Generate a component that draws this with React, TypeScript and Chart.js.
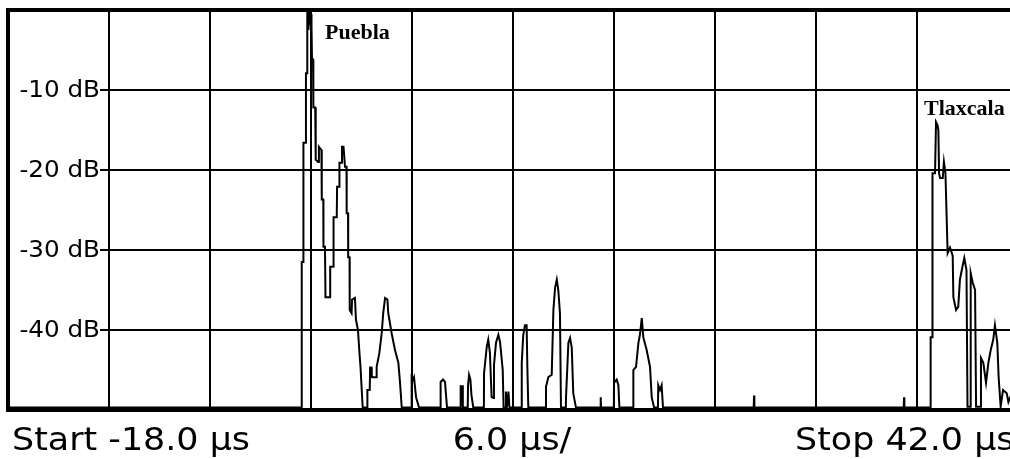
import React, { useEffect, useRef } from "react";
import { Chart, registerables } from "chart.js";

Chart.register(...registerables);

// Time axis (µs) and level (dB) of the trace
const TIME_US = [
  -18.0, -0.56, -0.55, -0.46, -0.45, -0.31, -0.30, -0.23, -0.22, -0.15, -0.11, -0.03, 0.00, 0.03, 0.06, 0.12, 0.14, 0.25, 0.28, 0.42,
  0.47, 0.62, 0.64, 0.73, 0.74, 0.83, 0.86, 1.13, 1.14, 1.32, 1.34, 1.53, 1.55, 1.68, 1.69, 1.82, 1.84, 1.93, 1.99, 2.02,
  2.11, 2.12, 2.20, 2.21, 2.29, 2.30, 2.41, 2.44, 2.61, 2.67, 2.79, 2.88, 2.94, 3.07, 3.33, 3.35, 3.49, 3.51, 3.59, 3.61,
  3.89, 3.90, 4.06, 4.20, 4.29, 4.40, 4.54, 4.59, 4.79, 4.99, 5.19, 5.29, 5.39, 5.97, 5.98, 6.06, 6.12, 6.24, 6.42, 7.69,
  7.70, 7.84, 7.96, 8.02, 8.08, 8.88, 8.89, 8.94, 8.98, 9.02, 9.31, 9.33, 9.39, 9.47, 9.53, 9.64, 10.27, 10.28, 10.44, 10.53,
  10.63, 10.73, 10.84, 10.87, 10.99, 11.13, 11.23, 11.39, 11.44, 11.56, 11.58, 11.64, 11.73, 11.79, 12.50, 12.52, 12.61, 12.71, 12.81, 12.85,
  12.91, 13.95, 13.96, 14.10, 14.30, 14.40, 14.50, 14.60, 14.69, 14.79, 14.85, 15.14, 15.15, 15.29, 15.39, 15.49, 15.58, 15.74, 17.20, 17.21,
  17.23, 17.99, 18.00, 18.16, 18.26, 18.32, 19.13, 19.15, 19.31, 19.45, 19.54, 19.65, 19.74, 19.94, 20.14, 20.24, 20.38, 20.61, 20.63, 20.73,
  20.83, 20.91, 26.30, 26.32, 26.34, 35.21, 35.23, 35.25, 36.80, 36.81, 36.91, 36.92, 37.07, 37.13, 37.22, 37.27, 37.31, 37.37, 37.53, 37.60,
  37.69, 37.82, 37.96, 38.12, 38.16, 38.32, 38.45, 38.55, 38.66, 38.81, 38.94, 39.00, 39.15, 39.19, 39.31, 39.45, 39.51, 39.77, 39.80, 39.94,
  40.10, 40.24, 40.38, 40.53, 40.63, 40.77, 40.85, 40.97, 41.11, 41.33, 41.43, 41.52, 41.76, 42.0,
];

const LEVEL_DB = [
  -49.7, -49.7, -31.5, -31.5, -16.6, -16.6, -7.9, -7.9, -0.1, -2.5, -0.2, -1.9, -0.5, -2.1, -6.2, -6.2, -12.2, -12.2, -18.7, -19.0,
  -17.1, -17.5, -23.7, -23.7, -29.6, -29.6, -35.9, -35.9, -32.1, -32.1, -25.9, -25.9, -22.1, -22.1, -19.1, -19.1, -17.1, -17.1, -18.7, -19.6,
  -19.6, -25.4, -25.4, -30.9, -30.9, -37.5, -37.9, -36.2, -36.0, -38.7, -40.0, -42.9, -44.6, -49.7, -49.7, -47.5, -47.5, -44.7, -44.7, -45.9,
  -45.9, -44.6, -42.9, -40.4, -37.9, -36.0, -36.2, -37.9, -40.4, -42.5, -44.1, -46.6, -49.7, -49.7, -45.9, -46.2, -45.9, -48.4, -49.7, -49.7,
  -46.5, -46.2, -46.5, -48.1, -49.7, -49.7, -46.9, -48.7, -46.9, -49.7, -49.7, -46.9, -45.6, -46.2, -48.1, -49.7, -49.7, -45.4, -42.1, -41.2,
  -42.9, -48.4, -48.5, -44.4, -41.6, -40.6, -41.5, -45.0, -49.7, -49.7, -47.7, -49.7, -47.7, -49.7, -49.7, -44.1, -40.6, -39.4, -39.4, -44.4,
  -49.7, -49.7, -47.1, -45.9, -45.6, -37.5, -34.7, -33.7, -35.0, -37.9, -49.7, -49.7, -48.4, -41.6, -41.0, -42.2, -47.9, -49.7, -49.7, -48.4,
  -49.7, -49.7, -46.6, -46.2, -46.9, -49.7, -49.7, -45.0, -44.6, -41.6, -40.6, -38.5, -40.9, -42.5, -44.6, -48.4, -49.7, -49.7, -46.9, -47.5,
  -46.9, -49.7, -49.7, -48.2, -49.7, -49.7, -48.4, -49.7, -49.7, -40.9, -40.9, -20.4, -20.4, -14.0, -14.4, -15.0, -20.4, -21.0, -21.0, -19.0,
  -20.4, -30.4, -29.7, -30.7, -35.9, -37.5, -37.1, -33.7, -32.5, -31.0, -32.5, -49.6, -49.6, -32.9, -34.1, -35.0, -49.6, -49.6, -43.5, -44.1,
  -46.6, -44.1, -42.5, -41.2, -39.4, -41.6, -45.9, -49.6, -47.5, -47.9, -49.0, -48.5, -49.7, -49.7,
];

// Axis definition
const X_MIN = -18;
const X_MAX = 42;
const X_STEP = 6;
const Y_MIN = -50;
const Y_MAX = 0;
const Y_STEP = 10;

// Level tick labels
const Y_LABEL_VALUES = [-10, -20, -30, -40];
const Y_LABELS = ["-10 dB", "-20 dB", "-30 dB", "-40 dB"];

// Footer texts
const START_LABEL = "Start -18.0 µs";
const DIV_LABEL = "6.0 µs/";
const STOP_LABEL = "Stop 42.0 µs";

// Peak annotations (anchor in data units)
const PEAK_NAMES = ["Puebla", "Tlaxcala"];
const PEAK_T = [0.83, 36.42];
const PEAK_DB = [-3.6, -13.1];

const overlayPlugin = {
  id: "overlay",
  beforeDatasetsDraw(chart: any) {
    const { ctx, chartArea, scales } = chart;
    const y = scales.y;
    ctx.save();
    Y_LABEL_VALUES.forEach((v, i) => {
      const py = y.getPixelForValue(v);
      ctx.fillStyle = "#ffffff";
      ctx.fillRect(chartArea.left + 2, py - 3, 100 - chartArea.left - 2, 6);
      ctx.fillStyle = "#000000";
      ctx.save();
      ctx.translate(100, py + 1);
      ctx.scale(1.07, 1);
      ctx.font = "23px 'DejaVu Sans'";
      ctx.textAlign = "right";
      ctx.textBaseline = "middle";
      ctx.fillText(Y_LABELS[i], 0, 0);
      ctx.restore();
    });
    ctx.restore();
  },
  afterDraw(chart: any) {
    const { ctx, scales } = chart;
    const x = scales.x;
    const y = scales.y;
    ctx.save();
    ctx.fillStyle = "#000000";
    ctx.textBaseline = "alphabetic";
    ctx.textAlign = "left";
    ctx.font = "bold 22px 'Liberation Serif'";
    PEAK_NAMES.forEach((name, i) => {
      ctx.fillText(name, x.getPixelForValue(PEAK_T[i]), y.getPixelForValue(PEAK_DB[i]));
    });
    const drawStretched = (text: string, px: number, align: CanvasTextAlign) => {
      ctx.save();
      ctx.translate(px, 450);
      ctx.scale(1.09, 1);
      ctx.font = "32px 'DejaVu Sans'";
      ctx.textAlign = align;
      ctx.fillText(text, 0, 0);
      ctx.restore();
    };
    drawStretched(START_LABEL, 12, "left");
    drawStretched(DIV_LABEL, 512, "center");
    drawStretched(STOP_LABEL, 795, "left");
    ctx.restore();
  },
};

export default function App() {
  const canvasRef = useRef<HTMLCanvasElement | null>(null);

  useEffect(() => {
    if (!canvasRef.current) return;
    const points = TIME_US.map((t, i) => ({ x: t, y: LEVEL_DB[i] }));
    const chart = new Chart(canvasRef.current, {
      type: "line",
      data: {
        datasets: [
          {
            data: points,
            borderColor: "#000000",
            borderWidth: 2,
            pointRadius: 0,
            tension: 0,
            fill: false,
          },
        ],
      },
      options: {
        animation: false,
        responsive: false,
        devicePixelRatio: 1,
        layout: { padding: { left: 8, top: 10, right: 12, bottom: 49 } },
        plugins: { legend: { display: false }, tooltip: { enabled: false } },
        scales: {
          x: {
            type: "linear",
            min: X_MIN,
            max: X_MAX,
            ticks: { display: false, stepSize: X_STEP },
            grid: { color: "#000000", lineWidth: 2, drawTicks: false },
            border: { display: true, color: "#000000", width: 4 },
          },
          y: {
            type: "linear",
            min: Y_MIN,
            max: Y_MAX,
            ticks: { display: false, stepSize: Y_STEP },
            grid: {
              color: "#000000",
              lineWidth: (c: any) => (c.tick && c.tick.value === Y_MAX ? 4 : 2),
              drawTicks: false,
            },
            border: { display: true, color: "#000000", width: 4 },
          },
        },
      },
      plugins: [overlayPlugin],
    });
    return () => chart.destroy();
  }, []);

  return (
    <div
      style={{
        position: "absolute",
        left: 0,
        top: 0,
        width: 1010,
        height: 459,
        overflow: "hidden",
        background: "#ffffff",
      }}
    >
      <canvas ref={canvasRef} width={1030} height={459} style={{ display: "block" }} />
    </div>
  );
}
